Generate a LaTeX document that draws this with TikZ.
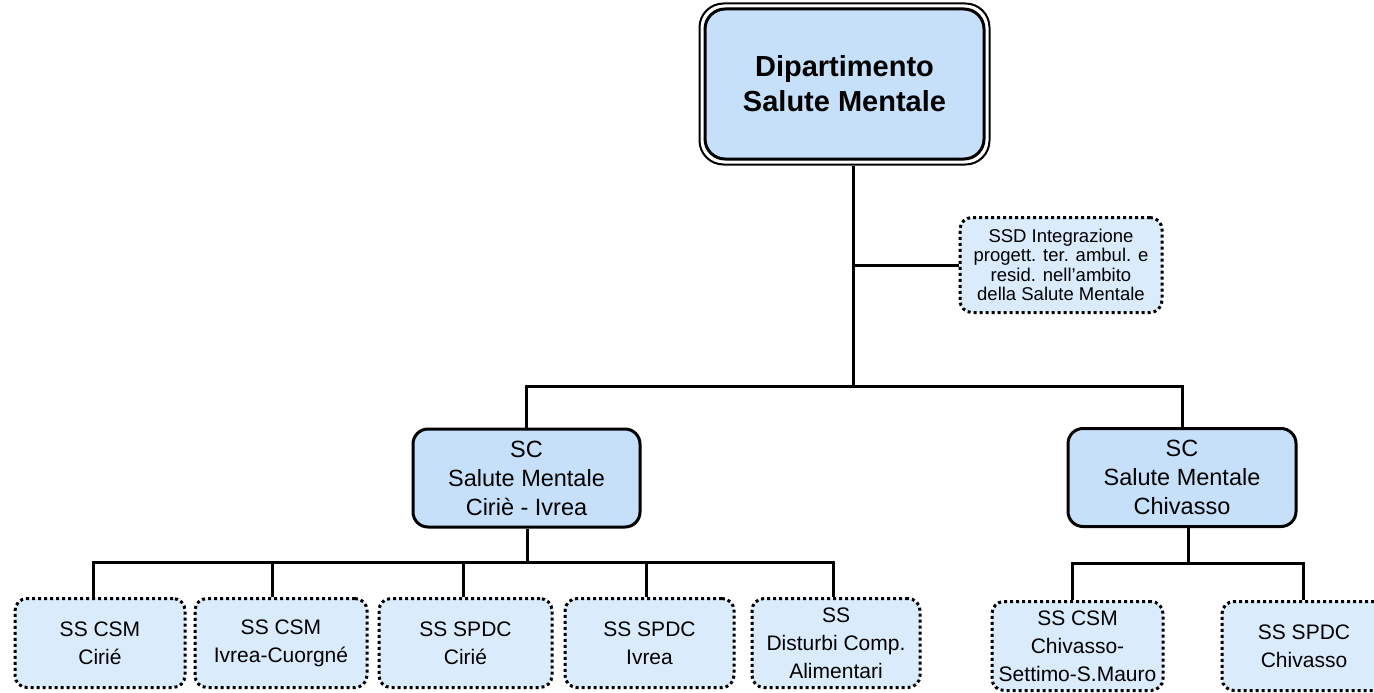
\documentclass[tikz,border=0pt]{standalone}
\usepackage{fontspec}
\setmainfont{Liberation Sans}
\usetikzlibrary{fit}
\definecolor{boxblue}{HTML}{C6E0FA}
\definecolor{lightblue}{HTML}{DAEBFC}
\begin{document}
\begin{tikzpicture}[x=1pt,y=-1pt,
  conn/.style={line width=3pt},
  topbox/.style={draw, line width=3pt, fill=boxblue, rounded corners=20pt, align=center,
    font=\fontsize{29}{35}\selectfont\bfseries, inner sep=0pt,
    minimum width=279pt, minimum height=150pt},
  topframe/.style={draw, line width=2pt, rounded corners=24pt, inner sep=4pt},
  scbox/.style={draw, line width=3pt, fill=boxblue, rounded corners=15pt, align=center,
    font=\fontsize{23.5}{29}\selectfont, inner sep=0pt, minimum height=98pt},
  ssbox/.style={draw, line width=3pt, dash pattern=on 3pt off 3pt, fill=lightblue,
    rounded corners=12pt, align=center, font=\fontsize{21}{28}\selectfont,
    inner sep=0pt, minimum height=89pt},
  ssdbox/.style={ssbox, font=\fontsize{18.5}{19.5}\selectfont, minimum height=95pt, minimum width=202pt}
]
\useasboundingbox (0,0) rectangle (1374,693);
\clip (0,0) rectangle (1374,693);

% top
\node[topbox] (top) at (844.5,84) {Dipartimento\\Salute Mentale};
\node[topframe, fit=(top)] (topfr) {};

% SSD
\node[ssdbox] (ssd) at (1061,265) {SSD Integrazione\\progett. ter. ambul. e\\resid. nell’ambito\\della Salute Mentale};

% SC
\node[scbox, minimum width=227pt] (sc1) at (526.5,478) {SC\\Salute Mentale\\Ciriè - Ivrea};
\node[scbox, minimum width=228pt] (sc2) at (1182,477.5) {SC\\Salute Mentale\\Chivasso};

% SS left
\node[ssbox, minimum width=170pt] (b1) at (100,643) {SS CSM\\Cirié};
\node[ssbox, minimum width=172pt] (b2) at (281,643) {SS CSM\\Ivrea-Cuorgné};
\node[ssbox, minimum width=173pt] (b3) at (465.5,643) {SS SPDC\\Cirié};
\node[ssbox, minimum width=169pt] (b4) at (649.5,643) {SS SPDC\\Ivrea};
\node[ssbox, minimum width=168pt] (b5) at (836,643) {SS\\Disturbi Comp.\\Alimentari};

% SS right
\node[ssbox, minimum width=171pt] (b6) at (1077.5,646) {SS CSM\\Chivasso-\\Settimo-S.Mauro};
\node[ssbox, minimum width=164pt] (b7) at (1304,646) {SS SPDC\\Chivasso};

% junctions
\coordinate (j1) at (853,386);
\coordinate (j2) at (527,562);
\coordinate (j3) at (1188,563);

% connectors
\draw[conn] (topfr.south -| j1) -- (j1);
\draw[conn] (ssd.west -| j1) -- (ssd.west);
\draw[conn] (sc1.north) -- (sc1.north |- j1) -- (sc2.north |- j1) -- (sc2.north);

\draw[conn] (sc1.south -| j2) -- (j2);
\draw[conn] ([xshift=-7pt]b1.north) -- ([xshift=-7pt]b1.north |- j2) -- ([xshift=-3pt]b5.north |- j2) -- ([xshift=-3pt]b5.north);
\draw[conn] ([xshift=-9pt]b2.north) -- ([xshift=-9pt]b2.north |- j2);
\draw[conn] ([xshift=-2.5pt]b3.north) -- ([xshift=-2.5pt]b3.north |- j2);
\draw[conn] ([xshift=-3.5pt]b4.north) -- ([xshift=-3.5pt]b4.north |- j2);

\draw[conn] (sc2.south -| j3) -- (j3);
\draw[conn] ([xshift=-5.5pt]b6.north) -- ([xshift=-5.5pt]b6.north |- j3) -- ([xshift=-1pt]b7.north |- j3) -- ([xshift=-1pt]b7.north);
\end{tikzpicture}
\end{document}
